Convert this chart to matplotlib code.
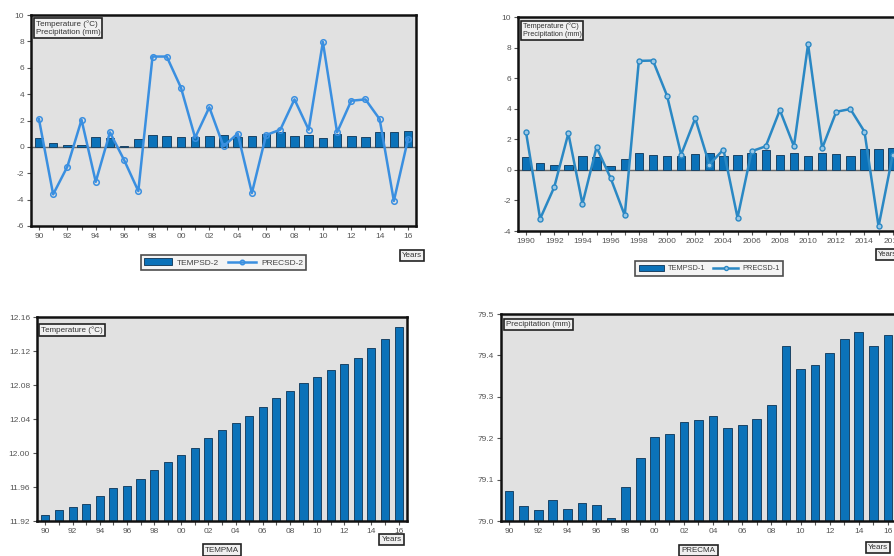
import numpy as np
import matplotlib
matplotlib.use("Agg")
import matplotlib.pyplot as plt

plt.rcParams["font.family"] = ["Liberation Sans", "DejaVu Sans"]

years = np.arange(1990, 2017)
short_labels = [f"{y % 100:02d}" for y in years[::2]]
long_labels = [str(y) for y in years[::2]]

# ---------- data ----------
tempsd2 = [0.65, 0.30, 0.15, 0.15, 0.75, 0.65, 0.05, 0.60, 0.90, 0.80, 0.75, 0.75, 0.85, 0.90,
           0.75, 0.80, 0.95, 1.10, 0.80, 0.90, 0.70, 0.95, 0.85, 0.75, 1.15, 1.15, 1.20]
precsd2 = [2.10, -3.60, -1.50, 2.05, -2.65, 1.10, -1.00, -3.35, 6.85, 6.85, 4.50, 0.70, 3.00, 0.05,
           1.00, -3.50, 0.90, 1.30, 3.60, 1.30, 7.95, 1.10, 3.50, 3.60, 2.10, -4.10, 0.60]

tempsd1 = [0.83, 0.48, 0.35, 0.33, 0.90, 0.83, 0.28, 0.72, 1.09, 0.96, 0.89, 0.89, 1.04, 1.09,
           0.89, 0.98, 1.13, 1.33, 0.96, 1.09, 0.89, 1.11, 1.02, 0.89, 1.35, 1.35, 1.41]
precsd1 = [2.46, -3.20, -1.13, 2.39, -2.22, 1.48, -0.54, -2.98, 7.13, 7.15, 4.85, 1.00, 3.37, 0.35,
           1.33, -3.13, 1.22, 1.54, 3.91, 1.54, 8.22, 1.41, 3.80, 3.98, 2.50, -3.70, 0.95]

tempma = [11.9275, 11.933, 11.937, 11.940, 11.950, 11.9586, 11.961, 11.969, 11.980, 11.990,
          11.998, 12.006, 12.0176, 12.027, 12.035, 12.0435, 12.054, 12.065, 12.073, 12.082,
          12.089, 12.098, 12.105, 12.112, 12.1234, 12.1336, 12.148]
precma = [79.0727, 79.036, 79.026, 79.051, 79.028, 79.044, 79.038, 79.008, 79.082, 79.153,
          79.202, 79.210, 79.240, 79.243, 79.254, 79.224, 79.233, 79.246, 79.281, 79.422,
          79.368, 79.376, 79.407, 79.439, 79.457, 79.422, 79.449]

BAR = "#0b72b9"
BAR_EDGE = "#1b4466"
LINE = "#3a8fe0"
LINE2 = "#2a88c4"
BG = "#e1e1e1"
TICK_C = "#555555"

fig = plt.figure(figsize=(8.95, 5.56), dpi=100)
fig.patch.set_facecolor("white")

x = np.arange(len(years))


def style_axes(ax, xlabels, ylim, yticks, yfmt, xmin=-0.56):
    ax.set_facecolor(BG)
    for s in ax.spines.values():
        s.set_linewidth(1.8)
        s.set_color("#111111")
    ax.set_xlim(xmin, len(years) - 1 - xmin)
    ax.set_ylim(*ylim)
    ax.set_yticks(yticks)
    ax.set_yticklabels([yfmt(v) for v in yticks])
    ax.set_xticks(x, minor=True)
    ax.set_xticks(x[::2])
    ax.set_xticklabels(xlabels)
    ax.tick_params(axis="both", which="both", labelsize=6, colors=TICK_C,
                   length=3, width=0.8, direction="out")
    ax.tick_params(axis="x", pad=2)
    ax.tick_params(axis="y", pad=2)


def box_text(ax, xx, yy, txt, transform, ha="left", va="top", fs=5.8):
    ax.text(xx, yy, txt, transform=transform, ha=ha, va=va, fontsize=fs, color="#333333",
            linespacing=1.25,
            bbox=dict(boxstyle="square,pad=0.25", facecolor="#f0f0f0",
                      edgecolor="#222222", linewidth=1.2), clip_on=False)


def style_legend(leg):
    leg.get_frame().set_edgecolor("#222222")
    leg.get_frame().set_linewidth(1.2)
    leg.get_frame().set_facecolor("#f2f2f2")
    for t in leg.get_texts():
        t.set_color("#444444")


# ---------- top left ----------
ax1 = fig.add_axes([31 / 895, 1 - 226 / 556, 385 / 895, 211 / 556])
style_axes(ax1, short_labels, (-6, 10), np.arange(-6, 11, 2), lambda v: f"{v:d}")
ax1.axhline(0, color="#666666", lw=1.0, zorder=1)
b1 = ax1.bar(x, tempsd2, width=0.6, color=BAR, edgecolor=BAR_EDGE, lw=0.7, zorder=2, label="TEMPSD-2")
l1, = ax1.plot(x, precsd2, color=LINE, lw=1.8, marker="o", ms=4, mfc="none", mec=LINE, mew=1.1,
               zorder=3, label="PRECSD-2")
box_text(ax1, 0.012, 0.975, "Temperature (\u00b0C)\nPrecipitation (mm)", ax1.transAxes)
leg = ax1.legend(handles=[b1, l1], loc="upper center", bbox_to_anchor=(0.5, -0.118), ncol=2,
                 fontsize=6, frameon=True, fancybox=False, handlelength=3.4, handleheight=0.9,
                 columnspacing=1.0, handletextpad=0.6, borderpad=0.4, markerscale=0.8)
style_legend(leg)
box_text(ax1, 0.99, -0.125, "Years", ax1.transAxes, ha="center", va="top")

# ---------- top right ----------
ax2 = fig.add_axes([518 / 895, 1 - 231 / 556, 382.7 / 895, 214 / 556])
style_axes(ax2, long_labels, (-4, 10), np.arange(-4, 11, 2), lambda v: f"{v:d}", xmin=-0.57)
ax2.axhline(0, color="#666666", lw=1.0, zorder=1)
b2 = ax2.bar(x, tempsd1, width=0.6, color=BAR, edgecolor=BAR_EDGE, lw=0.7, zorder=2, label="TEMPSD-1")
l2, = ax2.plot(x, precsd1, color=LINE2, lw=1.8, marker="o", ms=3.6, mfc="#9cc8e6", mec=LINE2,
               mew=1.0, zorder=3, label="PRECSD-1")
box_text(ax2, 0.012, 0.975, "Temperature (\u00b0C)\nPrecipitation (mm)", ax2.transAxes, fs=5.2)
leg2 = ax2.legend(handles=[b2, l2], loc="upper center", bbox_to_anchor=(0.5, -0.125), ncol=2,
                  fontsize=5.3, frameon=True, fancybox=False, handlelength=3.4, handleheight=0.9,
                  columnspacing=1.0, handletextpad=0.6, borderpad=0.45, markerscale=0.8)
style_legend(leg2)
box_text(ax2, 0.965, -0.095, "Years", ax2.transAxes, ha="center", va="top", fs=5.5)

# ---------- bottom left ----------
ax3 = fig.add_axes([37 / 895, 1 - 521 / 556, 370 / 895, 204 / 556])
style_axes(ax3, short_labels, (11.92, 12.16), np.arange(11.92, 12.161, 0.04),
           lambda v: f"{v:.2f}", xmin=-0.62)
ax3.bar(x, tempma, width=0.6, color=BAR, edgecolor=BAR_EDGE, lw=0.7, zorder=2)
box_text(ax3, 0.012, 0.955, "Temperature (\u00b0C)", ax3.transAxes)
box_text(ax3, 0.5, -0.125, "TEMPMA", ax3.transAxes, ha="center", va="top")
box_text(ax3, 0.958, -0.075, "Years", ax3.transAxes, ha="center", va="top")

# ---------- bottom right ----------
ax4 = fig.add_axes([501 / 895, 1 - 521 / 556, 395 / 895, 207 / 556])
style_axes(ax4, short_labels, (79.0, 79.5), np.arange(79.0, 79.51, 0.1),
           lambda v: f"{v:.1f}", xmin=-0.55)
ax4.bar(x, precma, width=0.6, color=BAR, edgecolor=BAR_EDGE, lw=0.7, zorder=2)
box_text(ax4, 0.012, 0.965, "Precipitation (mm)", ax4.transAxes)
box_text(ax4, 0.5, -0.125, "PRECMA", ax4.transAxes, ha="center", va="top")
box_text(ax4, 0.955, -0.11, "Years", ax4.transAxes, ha="center", va="top")

fig.savefig("out.png", dpi=100, facecolor="white")
